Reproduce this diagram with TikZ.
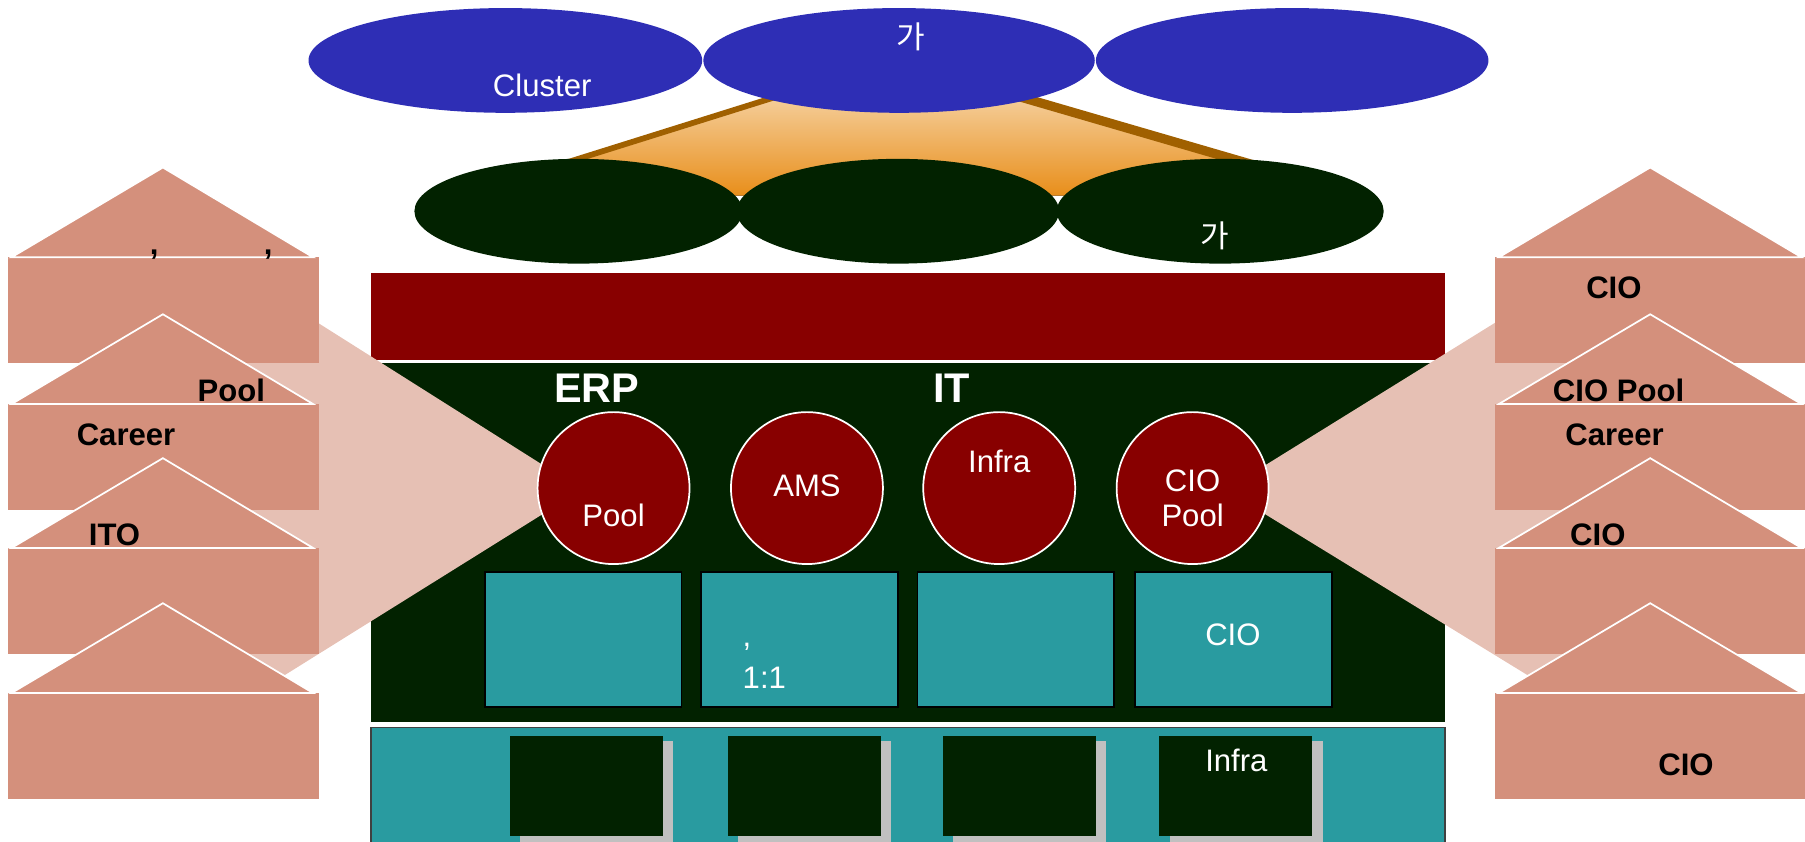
\documentclass[tikz,border=0pt]{standalone}
\usepackage{fontspec}
\setmainfont{Liberation Sans}
\newfontfamily\kr{Noto Sans CJK KR}
\usetikzlibrary{shapes.geometric}
\definecolor{blueE}{RGB}{46,46,181}
\definecolor{greenD}{RGB}{2,34,0}
\definecolor{redD}{RGB}{136,0,0}
\definecolor{tealB}{RGB}{41,155,160}
\definecolor{salmonH}{RGB}{212,144,124}
\definecolor{pinkL}{RGB}{230,192,180}
\definecolor{brownL}{RGB}{160,96,0}
\definecolor{gradTop}{RGB}{246,212,166}
\definecolor{gradBot}{RGB}{232,142,26}
\definecolor{shadowG}{RGB}{192,192,192}
\tikzset{
  lbl/.style={text=white, font=\fontsize{27}{32}\selectfont, inner sep=0, anchor=base},
  blbl/.style={text=black, font=\bfseries\fontsize{27}{32}\selectfont, inner sep=0, anchor=base},
  hdr/.style={text=white, font=\bfseries\fontsize{36}{40}\selectfont, inner sep=0, anchor=base},
  krlbl/.style={text=white, font=\kr\fontsize{27}{32}\selectfont, inner sep=0, anchor=center},
  blueell/.style={ellipse, fill=blueE, inner sep=0, minimum height=91pt},
  greenell/.style={ellipse, fill=greenD, inner sep=0, minimum height=91pt},
  redcirc/.style={circle, fill=redD, draw=white, line width=1.5pt, inner sep=0, minimum size=132pt},
  tealbox/.style={rectangle, fill=tealB, draw=black, line width=1.5pt, inner sep=0, minimum width=171pt, minimum height=117pt},
  darkbox/.style={rectangle, fill=greenD, inner sep=0, minimum width=133pt, minimum height=87pt},
  shadowbox/.style={rectangle, fill=shadowG, inner sep=0, minimum width=133pt, minimum height=87pt},
  roofshape/.style={fill=salmonH, draw=white, line width=1.5pt, line join=miter},
}
\begin{document}
\begin{tikzpicture}[x=1pt,y=-1pt]
\useasboundingbox (0,0) rectangle (1568,731);
% trapezoid
\fill[top color=gradTop, bottom color=gradBot] (700,76) -- (858,76) -- (1095,145) -- (1060,170) -- (520,170) -- (480,145) -- cycle;
\draw[brownL, line width=5pt] (700,76) -- (480,145);
\draw[brownL, line width=8pt] (858,76) -- (1095,145);
% blue ellipses
\node[blueell, minimum width=342pt] (b1) at (439,52.5) {};
\node[blueell, minimum width=340pt] (b2) at (781,52.5) {};
\node[blueell, minimum width=341pt] (b3) at (1122.5,52.5) {};
\node[lbl] (tcl) at (471,84) {Cluster};
\node[krlbl] (tga1) at (791.5,32) {가};
% green ellipses
\node[greenell, minimum width=285pt] (g1) at (502.5,183.5) {};
\node[greenell, minimum width=280pt] (g2) at (780,183.5) {};
\node[greenell, minimum width=284pt] (g3) at (1060,183.5) {};
\node[krlbl] (tga2) at (1055,204.5) {가};
% bars
\fill[redD] (322,237) rectangle (1255,313);
\fill[greenD] (322,315) rectangle (1255,627);
% funnels
\fill[pinkL] (200,232.3) -- (490,415.6) -- (490,435) -- (200,616) -- cycle;
\fill[pinkL] (1380,230) -- (1080,416) -- (1080,435) -- (1380,619) -- cycle;
% headers
\node[hdr] (terp) at (518.5,350) {ERP};
\node[hdr] (tit) at (826.5,350) {IT};
% circles
\node[redcirc] (c1) at (533,424) {};
\node[redcirc] (c2) at (701,424) {};
\node[redcirc] (c3) at (868,424) {};
\node[redcirc] (c4) at (1036,424) {};
\node[lbl] (tc1) at (533,457.5) {Pool};
\node[lbl] (tc2) at (701,431.5) {AMS};
\node[lbl] (tc3) at (868,410.6) {Infra};
\node[lbl] (tc4a) at (1036,427) {CIO};
\node[lbl] (tc4b) at (1036,457.5) {Pool};
% teal boxes
\node[tealbox] (t1) at (506.5,555.5) {};
\node[tealbox] (t2) at (694.5,555.5) {};
\node[tealbox] (t3) at (882.5,555.5) {};
\node[tealbox] (t4) at (1071.5,555.5) {};
\node[lbl, anchor=base west] (tcomma) at (645,562) {,};
\node[lbl, anchor=base west] (t11) at (645,597.8) {1:1};
\node[lbl] (tcio) at (1071,561) {CIO};
% bottom panel
\fill[tealB] (322,632) rectangle (1255,745);
\draw[black!75, line width=1.5pt] (322,745) -- (322,632) -- (1255,632) -- (1255,745);
\foreach \cx/\nm in {509.5/d1,698.5/d2,885.5/d3,1073.5/d4}{
  \node[shadowbox] (s\nm) at (\cx+9,687.5) {};
  \node[darkbox] (\nm) at (\cx,682.5) {};
}
\node[lbl] (tinfra) at (1074,669.8) {Infra};
% houses
\foreach \b in {223.5,351,476,602}{
  \fill[salmonH] (7,\b) rectangle (277,\b+92);
  \filldraw[roofshape] (10,\b) -- (141.5,\b-78) -- (272,\b) -- cycle;
  \fill[salmonH] (1298.7,\b) rectangle (1568,\b+92);
  \filldraw[roofshape] (1302,\b) -- (1433.5,\b-78) -- (1565,\b) -- cycle;
}
% left labels
\node[blbl] (lc1) at (134,221.5) {,};
\node[blbl] (lc2) at (233,221.5) {,};
\node[blbl] (lpool) at (201,349) {Pool};
\node[blbl] (lcar) at (109.5,386.6) {Career};
\node[blbl] (lito) at (99.5,473.5) {ITO};
% right labels
\node[blbl] (rc1) at (1402,259) {CIO};
\node[blbl] (rcp) at (1406,349) {CIO Pool};
\node[blbl] (rcar) at (1402.6,386.6) {Career};
\node[blbl] (rc2) at (1388,473.5) {CIO};
\node[blbl] (rc3) at (1464.6,674) {CIO};
\end{tikzpicture}
\end{document}
